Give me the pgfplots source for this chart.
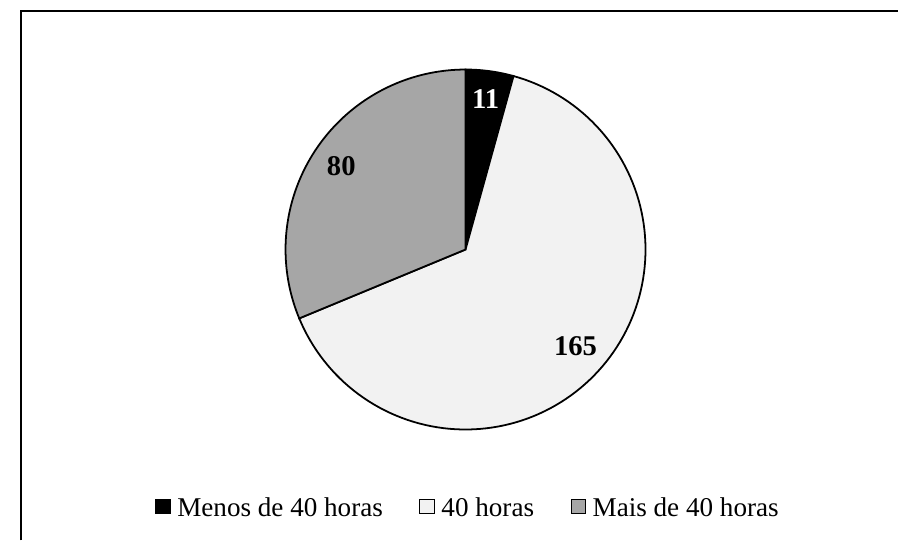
\documentclass[border=0pt]{standalone}
\usepackage{pgfplots}
\pgfplotsset{compat=1.18}
\usepackage{pgfplotstable}
\usepackage{fontspec}
\setmainfont{Liberation Serif}
\definecolor{sliceA}{HTML}{000000}
\definecolor{sliceB}{HTML}{F2F2F2}
\definecolor{sliceC}{HTML}{A6A6A6}
\pgfplotstableread{
label value
Menos 11
Quarenta 165
Mais 80
}\piedata
\begin{document}
\pgfplotstablegetelem{0}{value}\of\piedata\let\va\pgfplotsretval
\pgfplotstablegetelem{1}{value}\of\piedata\let\vb\pgfplotsretval
\pgfplotstablegetelem{2}{value}\of\piedata\let\vc\pgfplotsretval
\pgfmathsetmacro\tot{\va+\vb+\vc}
\pgfmathsetmacro\aA{90}
\pgfmathsetmacro\aB{\aA-360*(\va/\tot)}
\pgfmathsetmacro\aC{\aB-360*(\vb/\tot)}
\pgfmathsetmacro\aD{\aC-360*(\vc/\tot)}
\begin{tikzpicture}
\begin{axis}[
  scale only axis, width=898pt, height=548pt,
  xmin=0, xmax=898, ymin=0, ymax=548,
  hide axis, clip=false,
  legend columns=3,
  legend style={draw=none, fill=none, at={(axis cs:462,33)}, anchor=center,
    font=\fontsize{27.5}{30}\selectfont,
    /tikz/every even column/.append style={column sep=35pt},
    inner sep=0pt, cells={anchor=west}},
  legend image code/.code={\draw[#1, line width=0.9pt] (0pt,-6pt) rectangle (15pt,9pt);\path (19pt,0pt);},
]
\coordinate (bbl) at (axis cs:0,0);
\coordinate (btr) at (axis cs:898,548);
\draw[line width=2.6pt, black] (axis cs:9,0) -- (axis cs:9,537) -- (axis cs:898,537);
\addplot[fill=sliceA, draw=black, line width=1.8pt, domain=\aB:\aA, samples=40, variable=\t]
  ({459.5+182.5*cos(t)},{295+182.5*sin(t)}) -- (axis cs:459.5,295) -- cycle;
\addlegendentry{Menos de 40 horas}
\addplot[fill=sliceB, draw=black, line width=1.8pt, domain=\aC:\aB, samples=120, variable=\t]
  ({459.5+182.5*cos(t)},{295+182.5*sin(t)}) -- (axis cs:459.5,295) -- cycle;
\addlegendentry{40 horas}
\addplot[fill=sliceC, draw=black, line width=1.8pt, domain=\aD:\aC, samples=80, variable=\t]
  ({459.5+182.5*cos(t)},{295+182.5*sin(t)}) -- (axis cs:459.5,295) -- cycle;
\addlegendentry{Mais de 40 horas}
\node[white, font=\fontsize{29}{31}\selectfont\bfseries] at (axis cs:480,448) {11};
\node[black, font=\fontsize{29}{31}\selectfont\bfseries] at (axis cs:333.5,380) {80};
\node[black, font=\fontsize{29}{31}\selectfont\bfseries] at (axis cs:571,197) {165};
\end{axis}
\pgfresetboundingbox
\path[use as bounding box] (bbl) rectangle (btr);
\end{tikzpicture}
\end{document}
